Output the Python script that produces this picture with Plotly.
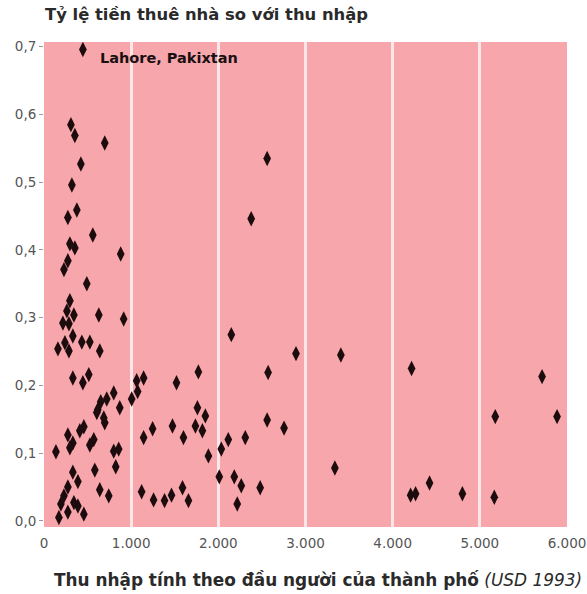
import plotly.graph_objects as go

# Income per capita (USD 1993) and rent-to-income ratio
income = [
    446, 309, 354, 697, 423, 320, 377, 274, 560, 297, 354, 880, 274, 229, 491,
    297, 263, 343, 629, 914, 217, 286, 331, 434, 526, 240, 160, 286, 640,
    331, 446, 514, 1063, 1143, 1074, 1006, 800, 720, 651, 617, 869, 686, 606,
    697, 457, 411, 274, 331, 297, 571, 526, 137, 800, 857, 823, 583, 331, 389,
    274, 640, 743, 229, 194, 343, 389, 274, 457, 171,
    1143, 1120, 1520, 1771, 1760, 1851, 1246, 1474, 1737, 1817, 1600, 1886,
    2034, 2114, 2309, 2560, 2571, 1257, 1383, 1463, 1589, 1657, 2011, 2183,
    2263, 2217, 2480, 2149, 2891, 3406, 2754, 3337, 2560, 2377,
    4217, 5714, 5177, 5886, 4423, 4206, 4263, 4800, 5166,
]
rent_ratio = [
    0.696, 0.585, 0.569, 0.558, 0.527, 0.496, 0.459, 0.448, 0.422, 0.409, 0.403, 0.394, 0.384, 0.371, 0.350,
    0.325, 0.310, 0.304, 0.304, 0.298, 0.292, 0.291, 0.273, 0.264, 0.264, 0.263, 0.254, 0.251, 0.251,
    0.211, 0.204, 0.216, 0.207, 0.211, 0.191, 0.180, 0.189, 0.180, 0.176, 0.164, 0.167, 0.152, 0.160,
    0.145, 0.139, 0.133, 0.127, 0.115, 0.108, 0.120, 0.112, 0.102, 0.103, 0.106, 0.080, 0.075, 0.072, 0.058,
    0.050, 0.046, 0.037, 0.037, 0.025, 0.027, 0.022, 0.013, 0.010, 0.005,
    0.123, 0.043, 0.204, 0.220, 0.167, 0.155, 0.136, 0.140, 0.140, 0.133, 0.123, 0.096,
    0.106, 0.120, 0.123, 0.149, 0.219, 0.031, 0.030, 0.038, 0.049, 0.030, 0.065, 0.065,
    0.052, 0.025, 0.049, 0.275, 0.247, 0.245, 0.137, 0.078, 0.535, 0.446,
    0.225, 0.213, 0.154, 0.154, 0.056, 0.038, 0.040, 0.040, 0.035,
]

x_tick_vals = [0, 1000, 2000, 3000, 4000, 5000, 6000]
x_tick_text = ["0", "1.000", "2.000", "3.000", "4.000", "5.000", "6.000"]
y_tick_vals = [0.0, 0.1, 0.2, 0.3, 0.4, 0.5, 0.6, 0.7]
y_tick_text = ["0,0", "0,1", "0,2", "0,3", "0,4", "0,5", "0,6", "0,7"]

title_text = "Tỷ lệ tiền thuê nhà so với thu nhập"
x_title_main = "Thu nhập tính theo đầu người của thành phố"
x_title_unit = "(USD 1993)"
label_text = "Lahore, Pakixtan"
label_x, label_y = 617, 0.684

FONT = "DejaVu Sans, Verdana, sans-serif"
W, H = 587, 594
ML, MR, MT, MB = 44, 20, 42, 67
PW, PH = W - ML - MR, H - MT - MB


def px_to_paper(px, py):
    return (px - ML) / PW, 1 - (py - MT) / PH


fig = go.Figure()
fig.add_trace(go.Scatter(
    x=income, y=rent_ratio, mode="markers",
    marker=dict(symbol="diamond-tall", size=11, color="#1c0c0e",
                line=dict(width=0)),
    hoverinfo="x+y", showlegend=False,
))

fig.add_annotation(x=label_x, y=label_y, xref="x", yref="y", text="<b>" + label_text + "</b>",
                   showarrow=False, xanchor="left", yanchor="middle",
                   font=dict(family=FONT, size=14.5, color="#1a1012"))

tx, ty = px_to_paper(43, 15)
fig.add_annotation(x=tx, y=ty, xref="paper", yref="paper", text="<b>" + title_text + "</b>",
                   showarrow=False, xanchor="left", yanchor="middle",
                   font=dict(family=FONT, size=16.4, color="#2a2a2a"))

ax, ay = px_to_paper(584, 580)
fig.add_annotation(x=ax, y=ay, xref="paper", yref="paper",
                   text="<b>" + x_title_main + "</b> <i>" + x_title_unit + "</i>",
                   showarrow=False, xanchor="right", yanchor="middle",
                   font=dict(family=FONT, size=16.9, color="#2a2a2a"))

fig.update_layout(
    width=W, height=H,
    margin=dict(l=ML, r=MR, t=MT, b=MB, autoexpand=False),
    paper_bgcolor="white",
    plot_bgcolor="#f7a6ab",
    font=dict(family=FONT, size=13, color="#555555"),
)

fig.update_xaxes(
    range=[0, 6000], tickvals=x_tick_vals, ticktext=x_tick_text,
    showgrid=True, gridcolor="#fde6e8", gridwidth=3,
    zeroline=False, showline=False, ticks="", ticklabelstandoff=6,
    automargin=False,
    tickfont=dict(family=FONT, size=13.5, color="#555555"),
)
fig.update_yaxes(
    range=[-0.009, 0.707], tickvals=y_tick_vals, ticktext=y_tick_text,
    showgrid=False, zeroline=False, showline=False,
    ticks="outside", ticklen=4, tickcolor="#999999", tickwidth=1,
    automargin=False,
    tickfont=dict(family=FONT, size=13.5, color="#555555"),
)

fig.write_html("out.html", config={"displayModeBar": False},
               post_script="document.body.style.margin='0';document.body.style.overflow='hidden';")
